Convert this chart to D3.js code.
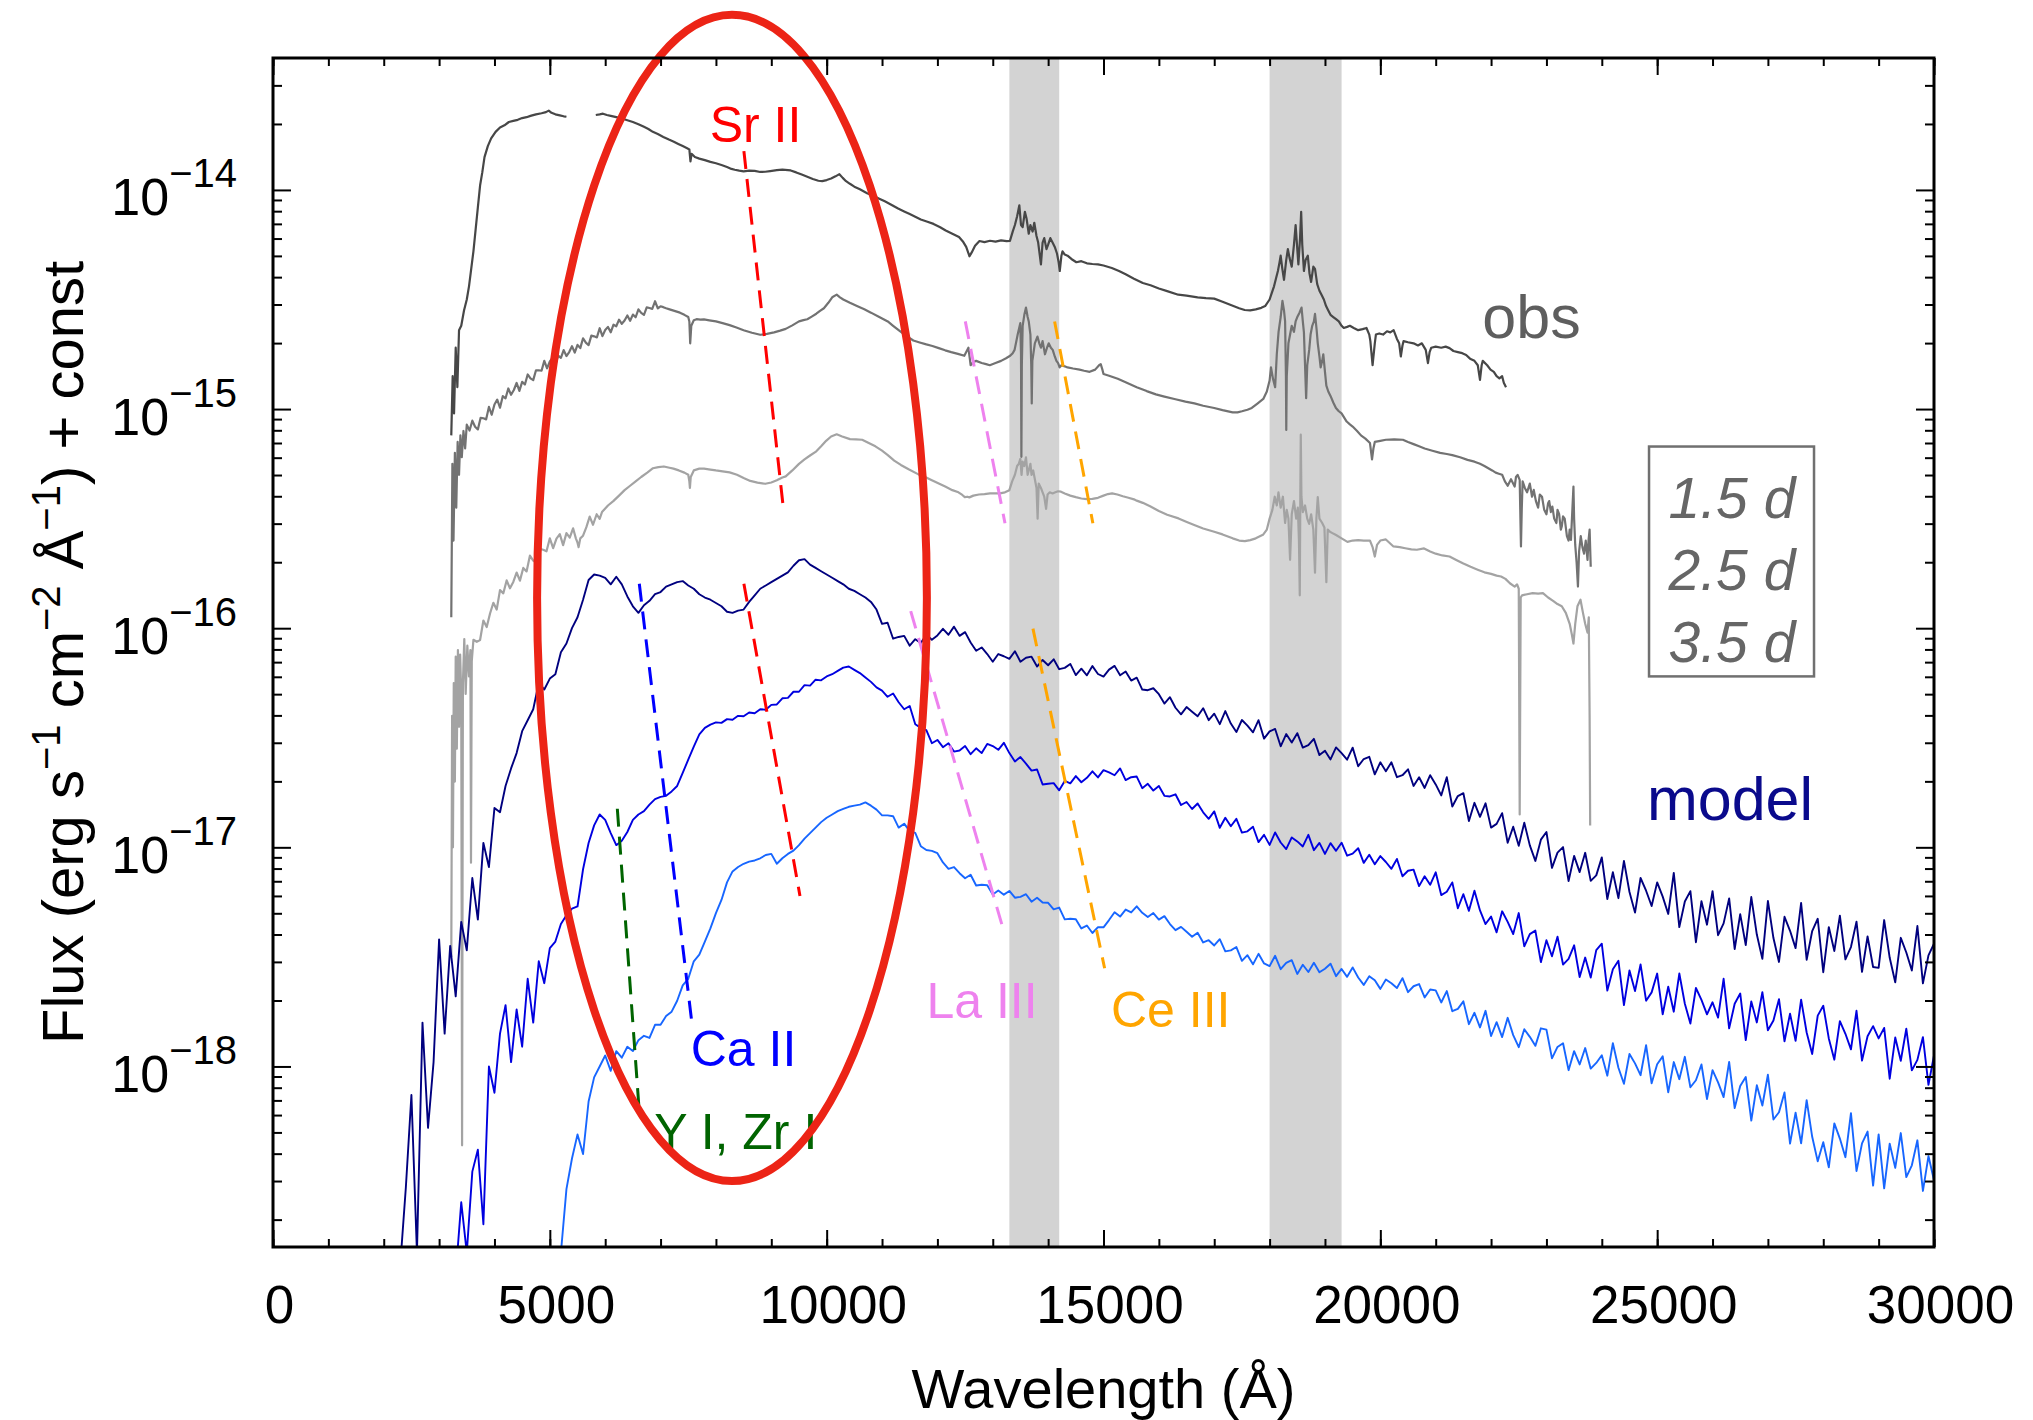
<!DOCTYPE html>
<html>
<head>
<meta charset="utf-8">
<script src="https://cdn.jsdelivr.net/npm/d3@7"></script>
<style>
  body { margin: 0; background: #fff; }
  text { font-family: "Liberation Sans", Arial, Helvetica, sans-serif; }
</style>
</head>
<body>
<script>
// ---- axes ----
var waveDomain = [0, 30000];
var fluxDomain = [1.5e-19, 4e-14];
var xMajorTicks = [0, 5000, 10000, 15000, 20000, 25000, 30000];
var yMajorTicks = [1e-18, 1e-17, 1e-16, 1e-15, 1e-14];

// telluric regions (Angstrom)
var telluricBands = [[13300, 14200], [18000, 19300]];

// ---- observed spectra: [wavelength (A), log10 flux], null = gap ----
var obs15 = [[3220,-15.12],[3245,-14.85],[3270,-15.02],[3300,-14.72],[3330,-14.9],[3360,-14.64],[3400,-14.62],[3450,-14.55],[3500,-14.5],[3540,-14.44],[3580,-14.36],[3620,-14.28],[3660,-14.18],[3700,-14.08],[3740,-13.98],[3780,-13.92],[3820,-13.85],[3880,-13.8],[3940,-13.765],[4020,-13.735],[4100,-13.715],[4180,-13.705],[4260,-13.69],[4340,-13.685],[4420,-13.68],[4500,-13.672],[4580,-13.668],[4650,-13.662],[4750,-13.655],[4850,-13.65],[4930,-13.645],[4980,-13.638],[5030,-13.648],[5100,-13.655],[5180,-13.66],[5250,-13.664],[5300,-13.666],[5310,null],
  [5830,-13.658],[5900,-13.655],[5960,-13.652],[6030,-13.658],[6100,-13.662],[6200,-13.668],[6300,-13.674],[6400,-13.682],[6500,-13.69],[6600,-13.7],[6700,-13.712],[6780,-13.722],[6860,-13.735],[6950,-13.745],[7050,-13.758],[7150,-13.77],[7240,-13.78],[7320,-13.79],[7400,-13.8],[7480,-13.81],[7520,-13.815],[7540,-13.87],[7560,-13.835],[7620,-13.85],[7700,-13.857],[7800,-13.864],[7900,-13.872],[8000,-13.878],[8100,-13.886],[8200,-13.895],[8280,-13.904],[8340,-13.908],[8420,-13.912],[8500,-13.915],[8600,-13.912],[8700,-13.913],[8800,-13.918],[8890,-13.917],[8980,-13.914],[9100,-13.91],[9200,-13.907],[9350,-13.911],[9450,-13.92],[9550,-13.93],[9650,-13.94],[9750,-13.95],[9850,-13.958],[9920,-13.96],[10000,-13.955],[10080,-13.948],[10160,-13.938],[10230,-13.928],[10290,-13.945],[10350,-13.96],[10420,-13.972],[10500,-13.985],[10600,-13.997],[10730,-14.015],[10850,-14.028],[10950,-14.04],[11050,-14.052],[11150,-14.065],[11290,-14.085],[11400,-14.098],[11500,-14.11],[11600,-14.122],[11700,-14.135],[11820,-14.145],[11930,-14.155],[12050,-14.17],[12150,-14.185],[12270,-14.2],[12390,-14.215],[12460,-14.235],[12520,-14.26],[12580,-14.303],[12620,-14.285],[12680,-14.255],[12760,-14.233],[12850,-14.238],[12950,-14.232],[13050,-14.236],[13150,-14.23],[13250,-14.234],[13310,-14.233],
  [13360,-14.19],[13400,-14.16],[13440,-14.12],[13480,-14.07],[13510,-14.16],[13540,-14.17],[13580,-14.1],[13610,-14.13],[13650,-14.2],[13680,-14.16],[13720,-14.19],[13750,-14.15],[13790,-14.21],[13820,-14.24],[13850,-14.3],[13870,-14.34],[13900,-14.24],[13930,-14.22],[13970,-14.27],[14000,-14.25],[14040,-14.22],[14080,-14.24],[14120,-14.26],[14160,-14.29],[14190,-14.33],[14210,-14.37],[14240,-14.3],[14260,-14.28],[14300,-14.295],[14350,-14.3],[14420,-14.315],[14510,-14.33],[14600,-14.325],[14700,-14.335],[14800,-14.338],[14900,-14.34],[15000,-14.345],[15150,-14.356],[15280,-14.37],[15400,-14.385],[15550,-14.405],[15710,-14.425],[15850,-14.435],[16000,-14.45],[16150,-14.462],[16350,-14.478],[16500,-14.482],[16700,-14.49],[16850,-14.494],[17000,-14.496],[17150,-14.51],[17300,-14.525],[17450,-14.54],[17550,-14.548],[17650,-14.55],[17750,-14.545],[17850,-14.538],[17920,-14.53],
  [18000,-14.5],[18040,-14.47],[18080,-14.44],[18120,-14.4],[18150,-14.37],[18180,-14.33],[18200,-14.3],[18230,-14.36],[18260,-14.41],[18300,-14.32],[18330,-14.27],[18360,-14.31],[18400,-14.35],[18440,-14.25],[18470,-14.16],[18500,-14.27],[18520,-14.34],[18550,-14.22],[18570,-14.1],[18590,-14.25],[18620,-14.37],[18650,-14.32],[18690,-14.3],[18720,-14.38],[18750,-14.42],[18790,-14.35],[18820,-14.36],[18860,-14.43],[18900,-14.46],[18940,-14.48],[18980,-14.5],[19020,-14.53],[19060,-14.55],[19100,-14.57],[19150,-14.58],[19200,-14.59],[19250,-14.6],[19300,-14.62],[19340,-14.63],
  [19400,-14.625],[19450,-14.62],[19520,-14.63],[19600,-14.64],[19680,-14.635],[19750,-14.63],[19800,-14.66],[19820,-14.69],[19860,-14.8],[19900,-14.7],[19920,-14.66],[19980,-14.655],[20050,-14.66],[20120,-14.645],[20180,-14.65],[20240,-14.64],[20300,-14.68],[20340,-14.7],[20370,-14.76],[20400,-14.71],[20420,-14.69],[20500,-14.695],[20600,-14.7],[20680,-14.71],[20750,-14.7],[20820,-14.73],[20860,-14.79],[20890,-14.74],[20920,-14.72],[21000,-14.715],[21100,-14.72],[21180,-14.715],[21250,-14.722],[21320,-14.735],[21400,-14.74],[21480,-14.745],[21550,-14.753],[21620,-14.77],[21700,-14.78],[21760,-14.8],[21800,-14.867],[21830,-14.8],[21850,-14.78],[21930,-14.8],[21990,-14.82],[22050,-14.83],[22100,-14.85],[22150,-14.86],[22200,-14.85],[22230,-14.88],[22270,-14.9]];

var obs25 = [[3220,-15.95],[3240,-15.25],[3260,-15.6],[3285,-15.2],[3310,-15.45],[3335,-15.15],[3360,-15.3],[3385,-15.12],[3410,-15.22],[3440,-15.1],[3470,-15.18],
  [3500,-15.071],[3550,-15.098],[3600,-15.053],[3650,-15.081],[3700,-15.093],[3750,-15.04],[3800,-15.042],[3850,-15.047],[3900,-14.99],[3950,-15.026],[4000,-14.979],[4050,-14.957],[4100,-14.994],[4150,-14.941],[4200,-14.951],[4250,-14.906],[4300,-14.935],[4350,-14.913],[4400,-14.881],[4450,-14.917],[4500,-14.876],[4550,-14.888],[4600,-14.842],[4650,-14.86],[4700,-14.868],[4750,-14.823],[4800,-14.823],[4850,-14.825],[4900,-14.78],[4950,-14.814],[5000,-14.783],[5050,-14.766],[5100,-14.798],[5150,-14.756],[5200,-14.766],[5250,-14.731],[5300,-14.758],[5350,-14.74],[5400,-14.713],[5450,-14.742],[5500,-14.707],[5550,-14.722],[5600,-14.677],[5650,-14.697],[5700,-14.708],[5750,-14.665],[5800,-14.668],[5850,-14.673],[5900,-14.631],[5950,-14.667],[6000,-14.639],[6050,-14.625],[6100,-14.65],[6150,-14.615],[6200,-14.622],[6250,-14.592],[6300,-14.611],[6350,-14.596],[6400,-14.573],[6450,-14.597],[6500,-14.569],[6550,-14.581],[6600,-14.545],[6650,-14.561],[6700,-14.57],[6750,-14.536],[6800,-14.539],[6850,-14.543],[6900,-14.508],[6950,-14.541],[7000,-14.531],
  [7050,-14.535],[7100,-14.54],[7163,-14.545],[7250,-14.552],[7350,-14.56],[7430,-14.57],[7500,-14.58],[7520,-14.6],[7535,-14.7],[7555,-14.62],[7600,-14.595],[7650,-14.59],[7720,-14.592],[7784,-14.591],[7880,-14.595],[8000,-14.6],[8120,-14.608],[8247,-14.617],[8370,-14.628],[8500,-14.64],[8650,-14.652],[8800,-14.661],[8920,-14.657],[9050,-14.65],[9160,-14.642],[9260,-14.634],[9380,-14.618],[9500,-14.6],[9580,-14.594],[9650,-14.59],[9730,-14.578],[9813,-14.565],[9880,-14.552],[9950,-14.54],[10030,-14.515],[10100,-14.49],[10181,-14.478],[10240,-14.49],[10300,-14.5],[10420,-14.515],[10547,-14.53],[10680,-14.545],[10800,-14.56],[10950,-14.58],[11104,-14.6],[11200,-14.62],[11300,-14.64],[11430,-14.665],[11565,-14.687],[11680,-14.696],[11800,-14.705],[11910,-14.712],[12025,-14.722],[12140,-14.732],[12250,-14.74],[12370,-14.748],[12486,-14.757],[12530,-14.735],[12560,-14.72],[12580,-14.76],[12600,-14.8],[12650,-14.785],[12700,-14.78],[12800,-14.79],[12880,-14.795],[12946,-14.8],[13050,-14.79],[13150,-14.78],[13240,-14.768],[13314,-14.757],
  [13360,-14.745],[13394,-14.73],[13450,-14.66],[13497,-14.608],[13510,-14.75],[13517,-15.218],[13525,-14.8],[13540,-14.62],[13570,-14.57],[13600,-14.537],[13630,-14.58],[13650,-14.6],[13680,-14.66],[13695,-14.8],[13704,-14.974],[13715,-14.78],[13760,-14.7],[13807,-14.669],[13840,-14.7],[13870,-14.72],[13900,-14.69],[13943,-14.75],[13980,-14.72],[14010,-14.7],[14050,-14.72],[14083,-14.73],[14120,-14.76],[14150,-14.78],[14180,-14.79],[14208,-14.81],[14240,-14.8],
  [14300,-14.805],[14350,-14.81],[14450,-14.815],[14568,-14.82],[14650,-14.825],[14750,-14.83],[14850,-14.82],[14920,-14.8],[14950,-14.795],[14980,-14.82],[15000,-14.84],[15100,-14.848],[15258,-14.862],[15400,-14.878],[15600,-14.9],[15780,-14.918],[15946,-14.933],[16100,-14.943],[16300,-14.955],[16480,-14.966],[16642,-14.974],[16800,-14.985],[17000,-14.995],[17150,-15.005],[17333,-15.015],[17420,-15.015],[17500,-15.01],[17600,-15.003],[17678,-14.995],[17780,-14.975],[17886,-14.954],[17950,-14.92],
  [18000,-14.87],[18025,-14.81],[18060,-14.86],[18100,-14.9],[18130,-14.75],[18162,-14.648],[18200,-14.58],[18232,-14.506],[18260,-14.55],[18280,-14.6],[18295,-14.85],[18301,-15.095],[18310,-14.85],[18340,-14.7],[18370,-14.66],[18400,-14.62],[18440,-14.648],[18470,-14.6],[18500,-14.58],[18540,-14.56],[18577,-14.537],[18600,-14.6],[18620,-14.65],[18640,-14.8],[18660,-14.95],[18680,-14.8],[18715,-14.73],[18740,-14.66],[18770,-14.62],[18800,-14.6],[18820,-14.566],[18850,-14.64],[18870,-14.7],[18900,-14.76],[18922,-14.81],[18950,-14.78],[18970,-14.75],[19000,-14.83],[19025,-14.893],[19060,-14.92],[19100,-14.94],[19150,-14.97],[19198,-14.995],[19250,-15.01],[19300,-15.02],[19350,-15.04],[19392,-15.057],
  [19450,-15.07],[19500,-15.08],[19580,-15.1],[19650,-15.12],[19730,-15.135],[19813,-15.155],[19830,-15.19],[19850,-15.23],[19875,-15.18],[19900,-15.15],[20000,-15.145],[20100,-15.14],[20250,-15.138],[20407,-15.14],[20500,-15.15],[20600,-15.16],[20700,-15.17],[20800,-15.18],[20940,-15.19],[21080,-15.2],[21200,-15.205],[21300,-15.21],[21440,-15.22],[21575,-15.232],[21700,-15.24],[21800,-15.25],[21880,-15.26],[21950,-15.27],[22020,-15.28],[22083,-15.29],[22140,-15.295],[22200,-15.3],[22250,-15.33],[22300,-15.35],[22360,-15.32],[22426,-15.354],[22450,-15.31],[22480,-15.3],[22517,-15.323],[22530,-15.5],[22540,-15.627],[22555,-15.45],[22570,-15.33],[22610,-15.36],[22650,-15.38],[22700,-15.34],[22740,-15.4],[22771,-15.369],[22810,-15.42],[22850,-15.45],[22880,-15.39],[22920,-15.4],[22960,-15.46],[23000,-15.48],[23030,-15.43],[23050,-15.42],[23080,-15.47],[23107,-15.445],[23140,-15.5],[23180,-15.52],[23200,-15.46],[23230,-15.48],[23260,-15.55],[23277,-15.536],[23300,-15.49],[23330,-15.5],[23370,-15.58],[23400,-15.6],[23420,-15.55],[23443,-15.597],[23470,-15.45],[23488,-15.354],[23500,-15.5],[23520,-15.62],[23545,-15.7],[23569,-15.81],[23590,-15.65],[23620,-15.58],[23650,-15.63],[23680,-15.66],[23710,-15.6],[23742,-15.688],[23760,-15.6],[23780,-15.55],[23800,-15.72]];

var obs35 = [[3220,-17.5],[3235,-16.4],[3250,-17.0],[3265,-16.25],[3285,-16.7],[3300,-16.13],[3320,-16.55],[3340,-16.1],[3360,-16.45],[3380,-16.12],[3400,-16.3],[3415,-18.36],[3430,-16.25],[3455,-16.05],[3480,-16.3],[3510,-16.08],[3540,-16.22],[3565,-16.1],[3576,-17.07],[3590,-16.15],
  [3620,-16.053],[3680,-16.062],[3740,-16.054],[3800,-15.965],[3860,-15.995],[3920,-15.933],[3980,-15.884],[4040,-15.915],[4100,-15.826],[4160,-15.841],[4220,-15.782],[4280,-15.818],[4340,-15.789],[4400,-15.746],[4460,-15.783],[4520,-15.725],[4580,-15.741],[4640,-15.669],[4700,-15.692],[4760,-15.702],[4820,-15.638],[4880,-15.642],[4940,-15.649],[5000,-15.59],[5060,-15.635],[5120,-15.591],[5180,-15.571],[5240,-15.621],[5300,-15.566],[5360,-15.587],[5420,-15.544],[5470,-15.59],[5500,-15.61],[5520,-15.63],[5550,-15.59],[5600,-15.578],[5660,-15.539],[5720,-15.491],[5780,-15.528],[5846,-15.48],[5900,-15.501],[5942,-15.47],
  [6050,-15.44],[6146,-15.42],[6250,-15.395],[6350,-15.37],[6450,-15.35],[6550,-15.33],[6650,-15.31],[6760,-15.29],[6863,-15.27],[6960,-15.265],[7060,-15.262],[7160,-15.268],[7233,-15.272],[7330,-15.28],[7430,-15.29],[7500,-15.3],[7520,-15.33],[7530,-15.36],[7545,-15.31],[7600,-15.28],[7700,-15.272],[7784,-15.272],[7900,-15.276],[8000,-15.28],[8120,-15.284],[8247,-15.289],[8380,-15.3],[8500,-15.315],[8620,-15.328],[8750,-15.336],[8891,-15.341],[9000,-15.335],[9100,-15.325],[9200,-15.312],[9260,-15.307],[9380,-15.28],[9500,-15.25],[9600,-15.23],[9700,-15.212],[9813,-15.193],[9900,-15.17],[9990,-15.145],[10080,-15.125],[10181,-15.115],[10280,-15.125],[10421,-15.137],[10530,-15.138],[10641,-15.14],[10760,-15.155],[10880,-15.17],[11000,-15.19],[11104,-15.21],[11220,-15.235],[11340,-15.255],[11480,-15.275],[11657,-15.298],[11780,-15.31],[11900,-15.325],[12025,-15.34],[12150,-15.355],[12270,-15.37],[12380,-15.38],[12450,-15.392],[12495,-15.402],[12540,-15.4],[12577,-15.403],[12650,-15.395],[12750,-15.39],[12850,-15.388],[12950,-15.385],[13050,-15.385],[13130,-15.385],[13220,-15.38],[13300,-15.37],
  [13350,-15.33],[13400,-15.3],[13440,-15.26],[13470,-15.25],[13498,-15.227],[13520,-15.3],[13540,-15.24],[13570,-15.26],[13600,-15.22],[13630,-15.3],[13650,-15.28],[13680,-15.25],[13700,-15.3],[13730,-15.28],[13760,-15.32],[13790,-15.36],[13810,-15.5],[13830,-15.34],[13870,-15.36],[13900,-15.38],[13930,-15.4],[13963,-15.455],[13990,-15.39],[14030,-15.38],[14080,-15.385],[14130,-15.38],[14180,-15.375],[14232,-15.377],
  [14300,-15.385],[14400,-15.395],[14500,-15.402],[14600,-15.408],[14697,-15.411],[14800,-15.41],[14900,-15.405],[15000,-15.395],[15080,-15.388],[15156,-15.385],[15250,-15.39],[15350,-15.398],[15450,-15.405],[15550,-15.412],[15600,-15.418],[15710,-15.428],[15850,-15.445],[16000,-15.465],[16150,-15.482],[16355,-15.499],[16504,-15.515],[16650,-15.53],[16800,-15.545],[17000,-15.56],[17150,-15.572],[17333,-15.59],[17450,-15.6],[17553,-15.603],[17650,-15.598],[17750,-15.59],[17880,-15.574],[17950,-15.55],
  [18000,-15.5],[18050,-15.46],[18093,-15.4],[18130,-15.44],[18160,-15.38],[18200,-15.45],[18240,-15.4],[18280,-15.52],[18310,-15.46],[18340,-15.5],[18370,-15.688],[18400,-15.48],[18440,-15.42],[18480,-15.5],[18510,-15.45],[18530,-15.6],[18545,-15.85],[18555,-15.4],[18563,-15.117],[18575,-15.4],[18600,-15.47],[18640,-15.44],[18680,-15.5],[18715,-15.524],[18750,-15.48],[18790,-15.55],[18820,-15.747],[18845,-15.5],[18870,-15.402],[18900,-15.5],[18950,-15.52],[18990,-15.54],[19025,-15.79],[19050,-15.55],[19090,-15.56],[19126,-15.565],[19200,-15.575],[19300,-15.59],[19406,-15.606],
  [19500,-15.6],[19600,-15.598],[19700,-15.6],[19813,-15.6],[19860,-15.63],[19900,-15.673],[19940,-15.62],[20000,-15.6],[20100,-15.595],[20237,-15.627],[20350,-15.63],[20450,-15.635],[20560,-15.64],[20659,-15.642],[20790,-15.636],[20900,-15.65],[21000,-15.66],[21120,-15.668],[21250,-15.673],[21380,-15.69],[21500,-15.705],[21630,-15.72],[21758,-15.733],[21880,-15.745],[22000,-15.752],[22100,-15.76],[22180,-15.764],[22260,-15.775],[22340,-15.795],[22426,-15.81],[22470,-15.8],[22500,-15.82],[22517,-16.85],[22535,-15.86],[22560,-15.85],[22650,-15.845],[22750,-15.84],[22850,-15.842],[22937,-15.84],[23030,-15.86],[23120,-15.875],[23200,-15.89],[23277,-15.9],[23350,-15.93],[23420,-15.98],[23460,-16.03],[23488,-16.07],[23520,-15.98],[23560,-15.9],[23615,-15.87],[23660,-15.93],[23700,-15.98],[23742,-16.02],[23765,-15.95],[23780,-16.4],[23790,-16.9]];

// ---- model spectra: log10 flux on a 100 A grid, one row per 1000 A ----
var modelStep = 100;
var model15Start = 2300;
var model15 = [
  [-18.90,-18.55,-18.13,-18.85,-17.80,-18.28,-17.98],
  [-17.42,-17.85,-17.45,-17.68,-17.34,-17.47,-17.14,-17.33,-16.98,-17.09],
  [-16.82,-16.84,-16.72,-16.64,-16.57,-16.47,-16.42,-16.37,-16.25,-16.28],
  [-16.23,-16.21,-16.11,-16.07,-16.00,-15.95,-15.87,-15.78,-15.755,-15.76],
  [-15.77,-15.80,-15.765,-15.80,-15.855,-15.90,-15.93,-15.895,-15.875,-15.845],
  [-15.835,-15.81,-15.80,-15.79,-15.785,-15.805,-15.82,-15.845,-15.86,-15.87],
  [-15.885,-15.90,-15.925,-15.93,-15.92,-15.915,-15.88,-15.85,-15.82,-15.805],
  [-15.79,-15.775,-15.76,-15.745,-15.715,-15.69,-15.685,-15.71,-15.725,-15.74],
  [-15.755,-15.77,-15.785,-15.80,-15.82,-15.83,-15.845,-15.86,-15.88,-15.915],
  [-15.98,-15.975,-16.048,-16.04,-16.035,-16.08,-16.05,-16.068,-16.03,-16.053],
  [-16.033,-16.003,-16.03,-15.993,-16.035,-16.018,-16.065,-16.103,-16.088,-16.118],
  [-16.153,-16.118,-16.128,-16.14,-16.105,-16.153,-16.135,-16.13,-16.175,-16.145],
  [-16.169,-16.142,-16.187,-16.181,-16.163,-16.214,-16.185,-16.215,-16.173,-16.209],
  [-16.221,-16.189,-16.172,-16.215,-16.198,-16.239,-16.226,-16.28,-16.283,-16.274],
  [-16.301,-16.344,-16.315,-16.363,-16.393,-16.36,-16.381,-16.402,-16.365,-16.42],
  [-16.39,-16.438,-16.378,-16.435,-16.474,-16.419,-16.445,-16.475,-16.42,-16.504],
  [-16.471,-16.46,-16.539,-16.483,-16.522,-16.479,-16.545,-16.534,-16.505,-16.579],
  [-16.559,-16.599,-16.544,-16.57,-16.60,-16.545,-16.63,-16.597,-16.587,-16.667],
  [-16.612,-16.653,-16.612,-16.68,-16.671,-16.644,-16.72,-16.68,-16.729,-16.671],
  [-16.713,-16.763,-16.68,-16.814,-16.766,-16.753,-16.88,-16.797,-16.861,-16.799],
  [-16.91,-16.893,-16.844,-16.979,-16.906,-16.993,-16.888,-16.991,-17.062,-16.965],
  [-16.93,-17.094,-17.024,-16.999,-17.154,-17.039,-17.113,-17.025,-17.153,-17.128],
  [-17.046,-17.236,-17.114,-17.232,-17.062,-17.204,-17.298,-17.14,-17.198,-17.268],
  [-17.16,-17.225,-17.304,-17.117,-17.364,-17.247,-17.2,-17.433,-17.246,-17.353],
  [-17.2,-17.401,-17.347,-17.233,-17.464,-17.305,-17.446,-17.227,-17.398,-17.509],
  [-17.245,-17.414,-17.523,-17.317,-17.381,-17.46,-17.254,-17.513,-17.382,-17.326],
  [-17.57,-17.364,-17.473,-17.312,-17.511,-17.455,-17.339,-17.568,-17.407,-17.546],
  [-17.55,-17.332,-17.504,-17.616,-17.413,-17.48,-17.562,-17.359,-17.621,-17.493],
  [-17.44]
];

var model25Start = 3300;
var model25 = [
  [-18.95,-18.62,-18.85,-18.48,-18.38,-18.72,-18.00],
  [-18.12,-17.85,-17.72,-17.98,-17.74,-17.91,-17.60,-17.80,-17.52,-17.62],
  [-17.46,-17.43,-17.35,-17.31,-17.28,-17.27,-17.10,-16.98,-16.90,-16.85],
  [-16.875,-16.935,-16.99,-16.97,-16.93,-16.875,-16.85,-16.835,-16.805,-16.78],
  [-16.77,-16.765,-16.745,-16.72,-16.66,-16.60,-16.54,-16.485,-16.455,-16.44],
  [-16.43,-16.432,-16.415,-16.418,-16.40,-16.402,-16.385,-16.388,-16.37,-16.372],
  [-16.35,-16.348,-16.32,-16.318,-16.29,-16.29,-16.26,-16.262,-16.235,-16.238],
  [-16.22,-16.21,-16.195,-16.18,-16.175,-16.19,-16.205,-16.225,-16.245,-16.27],
  [-16.285,-16.313,-16.298,-16.338,-16.37,-16.355,-16.438,-16.455,-16.465,-16.525],
  [-16.51,-16.543,-16.525,-16.563,-16.558,-16.538,-16.575,-16.548,-16.57,-16.528],
  [-16.538,-16.555,-16.523,-16.57,-16.608,-16.588,-16.618,-16.65,-16.645,-16.713],
  [-16.71,-16.707,-16.74,-16.697,-16.708,-16.675,-16.703,-16.683,-16.653,-16.681],
  [-16.648,-16.658,-16.671,-16.64,-16.693,-16.68,-16.677,-16.73,-16.71,-16.741],
  [-16.72,-16.765,-16.768,-16.758,-16.807,-16.793,-16.825,-16.80,-16.84,-16.87],
  [-16.836,-16.911,-16.865,-16.904,-16.87,-16.933,-16.927,-16.906,-16.976,-16.943],
  [-16.989,-16.932,-16.978,-17.008,-16.955,-16.973,-16.996,-16.943,-17.013,-16.98],
  [-17.03,-16.981,-17.016,-16.979,-17.038,-17.029,-17.004,-17.071,-17.034,-17.077],
  [-17.04,-17.067,-17.098,-17.053,-17.132,-17.107,-17.102,-17.177,-17.132,-17.171],
  [-17.114,-17.218,-17.203,-17.16,-17.278,-17.214,-17.29,-17.198,-17.288,-17.35],
  [-17.316,-17.388,-17.292,-17.34,-17.396,-17.30,-17.452,-17.396,-17.38,-17.524],
  [-17.424,-17.497,-17.408,-17.535,-17.509,-17.447,-17.592,-17.503,-17.594,-17.469],
  [-17.44,-17.654,-17.556,-17.518,-17.72,-17.562,-17.656,-17.534,-17.70,-17.662],
  [-17.576,-17.762,-17.636,-17.75,-17.576,-17.714,-17.804,-17.642,-17.696,-17.762],
  [-17.707,-17.777,-17.60,-17.826,-17.714,-17.667,-17.88,-17.703,-17.799,-17.661],
  [-17.835,-17.79,-17.693,-17.885,-17.759,-17.883,-17.695,-17.845,-17.943,-17.768],
  [-17.723,-17.872,-17.969,-17.793,-17.851,-17.922,-17.746,-17.973,-17.862,-17.816],
  [-17.872,-17.824,-18.056,-17.868,-17.974,-17.828,-18.018,-17.97,-17.866,-18.084],
  [-17.95]
];

var model35Start = 5200;
var model35 = [
  [-18.85,-18.56,-18.42,-18.31,-18.40,-18.16,-18.05,-18.00],
  [-17.95,-18.02,-17.93,-17.96,-17.91,-17.93,-17.88,-17.86,-17.87,-17.81],
  [-17.81,-17.77,-17.75,-17.70,-17.63,-17.60,-17.52,-17.49,-17.43,-17.37],
  [-17.30,-17.24,-17.16,-17.11,-17.09,-17.075,-17.065,-17.06,-17.05,-17.035],
  [-17.03,-17.075,-17.05,-17.03,-17.015,-16.99,-16.96,-16.935,-16.91,-16.885],
  [-16.865,-16.85,-16.835,-16.825,-16.815,-16.81,-16.805,-16.795,-16.81,-16.828],
  [-16.854,-16.854,-16.858,-16.91,-16.892,-16.926,-16.934,-16.995,-17.012,-17.016],
  [-17.027,-17.069,-17.098,-17.09,-17.118,-17.141,-17.125,-17.174,-17.171,-17.173],
  [-17.215,-17.197,-17.216,-17.199,-17.23,-17.226,-17.214,-17.248,-17.23,-17.252],
  [-17.253,-17.283,-17.275,-17.329,-17.326,-17.328,-17.37,-17.357,-17.391,-17.364],
  [-17.365,-17.332,-17.296,-17.316,-17.284,-17.297,-17.269,-17.299,-17.318,-17.30],
  [-17.33,-17.314,-17.35,-17.378,-17.363,-17.385,-17.408,-17.39,-17.434,-17.424],
  [-17.448,-17.419,-17.475,-17.47,-17.455,-17.518,-17.492,-17.534,-17.486,-17.53],
  [-17.542,-17.495,-17.556,-17.527,-17.515,-17.578,-17.536,-17.569,-17.527,-17.57],
  [-17.554,-17.531,-17.588,-17.555,-17.591,-17.548,-17.594,-17.628,-17.588,-17.607],
  [-17.646,-17.603,-17.62,-17.642,-17.597,-17.661,-17.634,-17.624,-17.685,-17.649],
  [-17.653,-17.708,-17.656,-17.748,-17.737,-17.703,-17.807,-17.755,-17.822,-17.746],
  [-17.861,-17.798,-17.866,-17.778,-17.857,-17.912,-17.83,-17.865,-17.906,-17.826],
  [-17.832,-17.963,-17.911,-17.894,-18.017,-17.93,-17.991,-17.916,-18.01,-17.984],
  [-17.949,-18.042,-17.894,-18.006,-18.079,-17.943,-17.986,-18.04,-17.903,-18.077],
  [-17.99,-17.954,-18.118,-17.98,-18.058,-17.956,-18.095,-18.063,-17.991,-18.149],
  [-18.017,-18.073,-18.14,-17.979,-18.19,-18.089,-18.048,-18.247,-18.086,-18.178],
  [-18.038,-18.242,-18.209,-18.119,-18.352,-18.211,-18.351,-18.154,-18.321,-18.433],
  [-18.346,-18.46,-18.26,-18.329,-18.414,-18.213,-18.477,-18.351,-18.297,-18.544],
  [-18.31,-18.556,-18.352,-18.463,-18.304,-18.505,-18.451,-18.337,-18.568,-18.409],
  [-18.52]
];

// ---- line identifications: segments [w1, logF1, w2, logF2], label anchor [w, logF] ----
var ionNames = ["Sr II", "Ca II", "Y I, Zr I", "La III", "Ce III"];
var ionSegments = [
  [[8505, -13.823, 9215, -15.446], [8505, -15.797, 9518, -17.222]],
  [[6616, -15.797, 7564, -17.798]],
  [[6219, -16.824, 6607, -18.177]],
  [[12504, -14.600, 13221, -15.521], [11518, -15.922, 13178, -17.364]],
  [[14117, -14.600, 14808, -15.521], [13726, -16.002, 15020, -17.552]]
];
var ionLabelAt = [[8715, -13.779], [8498, -17.996], [8359, -18.375], [12806, -17.779], [16215, -17.818]];
var ionColors = ["#ff0000", "#0000ff", "#006400", "#ee82ee", "#ffa500"];

// highlighted region (wavelength range, flux range)
var ellipseWave = [4770, 11810];
var ellipseFlux = [3.0e-19, 6.3e-14];

var epochs = ["1.5 d", "2.5 d", "3.5 d"];

// ---------------------------------------------------------------
var W = 2033, H = 1420;
var margin = {top: 58, right: 99, bottom: 173, left: 273};
var font = "'Liberation Sans', Arial, Helvetica, sans-serif";

var svg = d3.select("body").append("svg")
    .attr("width", W)
    .attr("height", H);

var x = d3.scaleLinear().domain(waveDomain).range([margin.left, W - margin.right]);
var y = d3.scaleLog().domain(fluxDomain).range([H - margin.bottom, margin.top]);
var plotW = W - margin.left - margin.right, plotH = H - margin.top - margin.bottom;

svg.append("clipPath").attr("id", "plotclip")
  .append("rect")
    .attr("x", margin.left).attr("y", margin.top)
    .attr("width", plotW).attr("height", plotH);

// telluric bands
svg.selectAll("rect.band").data(telluricBands).enter().append("rect")
    .attr("class", "band")
    .attr("x", function(d) { return x(d[0]); })
    .attr("width", function(d) { return x(d[1]) - x(d[0]); })
    .attr("y", margin.top)
    .attr("height", plotH)
    .attr("fill", "#d3d3d3");

function obsPoints(arr) {
  return arr.map(function(d) { return [d[0], d[1] === null ? null : Math.pow(10, d[1])]; });
}
function modelPoints(start, rows) {
  return [].concat.apply([], rows).map(function(v, i) { return [start + i * modelStep, Math.pow(10, v)]; });
}

var spectra = [
  {pts: obsPoints(obs35), color: "#a3a3a3", width: 2.2},
  {pts: obsPoints(obs25), color: "#727272", width: 2.2},
  {pts: obsPoints(obs15), color: "#474747", width: 2.2},
  {pts: modelPoints(model35Start, model35), color: "#1766ff", width: 1.9},
  {pts: modelPoints(model25Start, model25), color: "#0000e0", width: 1.9},
  {pts: modelPoints(model15Start, model15), color: "#00007f", width: 1.9}
];

var line = d3.line()
    .defined(function(d) { return d[1] !== null; })
    .x(function(d) { return x(d[0]); })
    .y(function(d) { return y(d[1]); });

var curves = svg.append("g").attr("clip-path", "url(#plotclip)");
curves.selectAll("path").data(spectra).enter().append("path")
    .attr("d", function(d) { return line(d.pts); })
    .attr("fill", "none")
    .attr("stroke", function(d) { return d.color; })
    .attr("stroke-width", function(d) { return d.width; })
    .attr("stroke-linejoin", "round");

// dashed line identifications
var ionG = svg.append("g");
ionSegments.forEach(function(segs, i) {
  ionG.selectAll(null).data(segs).enter().append("line")
      .attr("x1", function(s) { return x(s[0]); })
      .attr("y1", function(s) { return y(Math.pow(10, s[1])); })
      .attr("x2", function(s) { return x(s[2]); })
      .attr("y2", function(s) { return y(Math.pow(10, s[3])); })
      .attr("stroke", ionColors[i])
      .attr("stroke-width", 3)
      .attr("stroke-dasharray", "18,10");
  ionG.append("text")
      .attr("x", x(ionLabelAt[i][0]))
      .attr("y", y(Math.pow(10, ionLabelAt[i][1])))
      .attr("text-anchor", "middle")
      .attr("font-family", font)
      .attr("font-size", 50)
      .attr("fill", ionColors[i])
      .text(ionNames[i]);
});

// obs / model labels
svg.append("text")
    .attr("x", x(22731)).attr("y", y(Math.pow(10, -14.675)))
    .attr("text-anchor", "middle").attr("font-family", font).attr("font-size", 61)
    .attr("fill", "#5e5e5e").text("obs");
svg.append("text")
    .attr("x", x(26316)).attr("y", y(Math.pow(10, -16.877)))
    .attr("text-anchor", "middle").attr("font-family", font).attr("font-size", 61)
    .attr("fill", "#0a0a8c").text("model");

// epoch box
svg.append("rect")
    .attr("x", x(24853)).attr("y", y(Math.pow(10, -15.171)))
    .attr("width", x(27833) - x(24853))
    .attr("height", y(Math.pow(10, -16.22)) - y(Math.pow(10, -15.171)))
    .attr("fill", "none").attr("stroke", "#707070").attr("stroke-width", 2.5);
var epochBase = [-15.496, -15.825, -16.152];
svg.selectAll("text.epoch").data(epochs).enter().append("text")
    .attr("class", "epoch")
    .attr("x", x(26351))
    .attr("y", function(d, i) { return y(Math.pow(10, epochBase[i])); })
    .attr("text-anchor", "middle").attr("font-family", font).attr("font-size", 57)
    .attr("font-style", "italic").attr("fill", "#666666")
    .text(function(d) { return d; });

// red ellipse
var ex0 = x(ellipseWave[0]), ex1 = x(ellipseWave[1]);
var ey0 = y(ellipseFlux[1]), ey1 = y(ellipseFlux[0]);
svg.append("ellipse")
    .attr("cx", (ex0 + ex1) / 2).attr("cy", (ey0 + ey1) / 2)
    .attr("rx", (ex1 - ex0) / 2).attr("ry", (ey1 - ey0) / 2)
    .attr("fill", "none").attr("stroke", "#ec2416").attr("stroke-width", 8);

// ---- axes ----
var xMinor = d3.range(waveDomain[0], waveDomain[1] + 1, 1000);
var yMinor = [];
[-19, -18, -17, -16, -15, -14].forEach(function(e) {
  for (var m = 2; m <= 9; m++) {
    var v = m * Math.pow(10, e);
    if (v > fluxDomain[0] && v < fluxDomain[1]) yMinor.push(v);
  }
});

function styleTicks(g) {
  g.select(".domain").remove();
  g.selectAll("line").attr("stroke", "#000").attr("stroke-width", 2);
}

var bottomY = H - margin.bottom, rightX = W - margin.right;

svg.append("g").attr("transform", "translate(0," + bottomY + ")")
    .call(d3.axisBottom(x).tickValues(xMinor).tickSize(-8).tickSizeOuter(0).tickFormat(""))
    .call(styleTicks);
svg.append("g").attr("transform", "translate(0," + margin.top + ")")
    .call(d3.axisTop(x).tickValues(xMinor).tickSize(-8).tickSizeOuter(0).tickFormat(""))
    .call(styleTicks);
svg.append("g").attr("transform", "translate(0," + margin.top + ")")
    .call(d3.axisTop(x).tickValues(xMajorTicks).tickSize(-17).tickSizeOuter(0).tickFormat(""))
    .call(styleTicks);
var xAxis = svg.append("g").attr("transform", "translate(0," + bottomY + ")")
    .call(d3.axisBottom(x).tickValues(xMajorTicks).tickSize(-17).tickSizeOuter(0)
      .tickPadding(38).tickFormat(d3.format("d")))
    .call(styleTicks);
xAxis.selectAll("text")
    .attr("font-family", font).attr("font-size", 53).attr("fill", "#000").attr("dx", 6);

svg.append("g").attr("transform", "translate(" + margin.left + ",0)")
    .call(d3.axisLeft(y).tickValues(yMinor).tickSize(-9).tickSizeOuter(0).tickFormat(""))
    .call(styleTicks);
svg.append("g").attr("transform", "translate(" + rightX + ",0)")
    .call(d3.axisRight(y).tickValues(yMinor).tickSize(-9).tickSizeOuter(0).tickFormat(""))
    .call(styleTicks);
svg.append("g").attr("transform", "translate(" + rightX + ",0)")
    .call(d3.axisRight(y).tickValues(yMajorTicks).tickSize(-18).tickSizeOuter(0).tickFormat(""))
    .call(styleTicks);
var yAxis = svg.append("g").attr("transform", "translate(" + margin.left + ",0)")
    .call(d3.axisLeft(y).tickValues(yMajorTicks).tickSize(-18).tickSizeOuter(0).tickFormat(""))
    .call(styleTicks);
yAxis.selectAll(".tick text").remove();
var yLab = yAxis.selectAll(".tick").append("text")
    .attr("x", -36).attr("y", 25)
    .attr("text-anchor", "end")
    .attr("font-family", font)
    .attr("fill", "#000");
yLab.append("tspan").attr("font-size", 52).text("10");
yLab.append("tspan").attr("font-size", 40).attr("dy", -28)
    .text(function(d) { return "\u2212" + Math.abs(Math.round(Math.log10(d))); });

// frame
svg.append("rect")
    .attr("x", margin.left).attr("y", margin.top)
    .attr("width", plotW).attr("height", plotH)
    .attr("fill", "none").attr("stroke", "#000").attr("stroke-width", 3);

// axis titles
svg.append("text")
    .attr("x", margin.left + plotW / 2).attr("y", 1408)
    .attr("text-anchor", "middle").attr("font-family", font).attr("font-size", 56)
    .text("Wavelength (\u00c5)");

var yt = svg.append("text")
    .attr("transform", "translate(83," + (margin.top + plotH / 2) + ") rotate(-90)")
    .attr("text-anchor", "middle").attr("font-family", font).attr("font-size", 58)
    .style("white-space", "pre");
yt.append("tspan").text("Flux (erg s");
yt.append("tspan").attr("font-size", 40).attr("dy", -23).text("\u22121");
yt.append("tspan").attr("dy", 23).text(" cm");
yt.append("tspan").attr("font-size", 40).attr("dy", -23).text("\u22122");
yt.append("tspan").attr("dy", 23).text(" \u00c5");
yt.append("tspan").attr("font-size", 40).attr("dy", -23).text("\u22121");
yt.append("tspan").attr("dy", 23).text(") + const");
</script>
</body>
</html>
